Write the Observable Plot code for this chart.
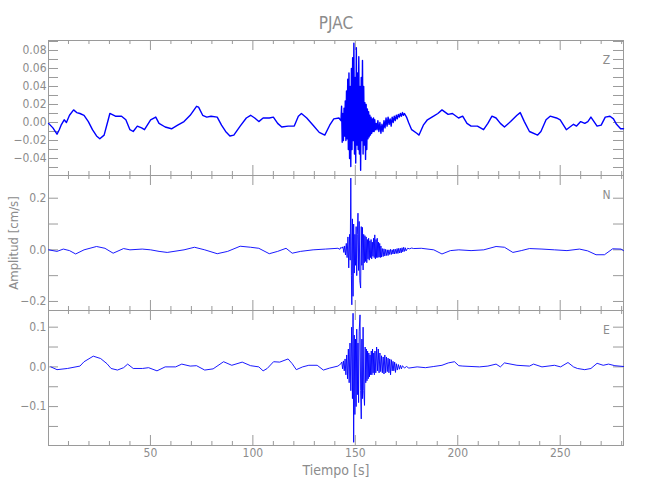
<!DOCTYPE html>
<html><head><meta charset="utf-8">
<script src="https://cdn.jsdelivr.net/npm/d3@7"></script>
<script src="https://cdn.jsdelivr.net/npm/@observablehq/plot@0.6"></script>
<style>
body{margin:0;background:#fff;}
#chart{width:650px;height:500px;overflow:hidden;}
#chart svg{display:block;overflow:visible;}
#chart svg, #chart svg text{font-family:"DejaVu Sans Condensed","DejaVu Sans",sans-serif;font-stretch:condensed;}
</style></head><body><div id="chart"></div>
<script>
// [time (s), amplitude (cm/s)]
const zSeries = [[0.3,-0.001],[2.4,-0.006],[4.4,-0.013],[5.5,-0.008],[6.4,-0.003],[7.9,0.003],[9.0,0.000],[10.5,0.008],[12.5,0.014],[14.0,0.011],[15.6,0.010],[17.6,0.008],[19.7,0.001],[21.7,-0.008],[23.7,-0.015],[25.3,-0.018],[27.4,-0.014],[29.4,0.003],[30.2,0.010],[32.9,0.007],[35.9,0.007],[38.0,0.003],[40.0,-0.008],[41.6,-0.010],[43.6,-0.004],[45.7,-0.006],[47.1,-0.008],[50.1,0.003],[52.6,0.006],[54.2,-0.001],[57.2,-0.005],[60.3,-0.007],[63.3,-0.003],[66.4,0.001],[69.4,0.008],[72.5,0.018],[73.5,0.017],[75.5,0.008],[77.5,0.006],[79.6,0.007],[82.6,0.006],[84.7,-0.003],[86.7,-0.010],[88.8,-0.015],[90.7,-0.014],[93.8,-0.004],[96.8,0.005],[98.9,0.008],[100.9,0.005],[102.9,0.001],[105.0,0.005],[108.0,0.005],[110.0,0.006],[112.1,-0.001],[114.1,-0.005],[117.2,-0.004],[120.2,-0.004],[122.2,0.007],[123.7,0.010],[126.3,0.005],[129.4,-0.003],[132.4,-0.011],[135.1,-0.014],[137.5,-0.003],[139.5,0.004],[142.0,0.005],
[143.0,0.002],[143.3,0.018],[143.6,-0.022],[143.9,0.010],[144.2,-0.020],[144.5,0.016],[144.8,-0.015],[145.1,0.024],[145.4,-0.020],[145.7,0.035],[146.0,-0.018],[146.3,0.048],[146.6,-0.030],[146.9,0.055],[147.2,-0.040],[147.5,0.040],[147.8,-0.049],[148.1,0.060],[148.4,-0.030],[148.7,0.072],[149.0,-0.020],[149.3,0.088],[149.6,-0.035],[149.9,0.050],[150.2,-0.045],[150.5,0.083],[150.8,-0.025],[151.1,0.055],[151.4,-0.030],[151.7,0.073],[152.0,-0.035],[152.3,0.040],[152.6,-0.053],[152.9,0.050],[153.2,-0.020],[153.5,0.069],[153.8,-0.035],[154.1,0.040],[154.4,-0.025],[154.7,0.022],[155.0,-0.041],[155.3,0.020],[155.6,-0.030],[155.9,0.015],[156.2,-0.018],[156.5,0.012],[156.8,-0.016],[157.1,0.008],[157.4,-0.014],[157.7,0.006],[158.0,-0.012],[158.3,0.004],[158.6,-0.010],[158.9,0.005],[159.2,-0.010],[159.5,0.003],[159.8,-0.008],[160.2,-0.001],[160.6,-0.008],[161.0,0.002],[161.5,-0.010],[162.0,0.000],[162.5,-0.012],[163.0,-0.002],[163.5,-0.010],[164.0,0.002],[164.5,-0.006],[165.0,0.005],[165.5,-0.004],[166.0,0.006],[166.5,-0.002],[167.0,0.004],[167.5,-0.004],[168.0,0.006],[168.5,0.000],[169.0,0.007],[169.5,0.002],[170.0,0.008],[170.5,0.004],[171.0,0.009],[171.5,0.006],[172.0,0.010],[172.5,0.007],[173.0,0.011],[173.5,0.008],[174.0,0.010],[175.0,0.006],[176.0,0.000],[177.5,-0.008],[180.0,-0.012],[181.1,-0.014],[183.2,-0.003],[185.2,0.003],[188.2,0.007],[190.3,0.010],[192.3,0.014],[195.3,0.009],[197.4,0.010],[200.4,0.005],[202.4,0.007],[204.5,-0.001],[206.5,-0.004],[209.6,-0.004],[212.6,-0.008],[214.7,-0.001],[216.7,0.007],[218.7,0.005],[220.8,-0.001],[222.8,-0.005],[225.8,0.001],[228.9,0.008],[230.5,0.011],[232.5,0.001],[235.0,-0.010],[239.0,-0.014],[240.6,-0.010],[243.1,0.003],[245.1,0.007],[248.2,0.005],[250.0,0.003],[253.0,-0.008],[256.5,-0.002],[258.0,-0.004],[260.0,0.001],[262.0,-0.001],[263.5,0.001],[265.0,0.006],[268.0,-0.004],[270.0,-0.003],[272.0,0.006],[274.3,0.007],[276.0,0.004],[277.5,-0.002],[279.5,-0.007],[280.9,-0.007]];

const nSeries = [[0.3,0.000],[4.4,-0.006],[7.5,0.003],[10.5,-0.003],[13.5,-0.016],[17.6,0.000],[23.7,0.013],[27.8,0.006],[31.8,-0.013],[36.9,0.005],[40.0,0.000],[46.0,0.003],[50.1,0.000],[54.2,-0.006],[58.2,-0.010],[66.4,0.000],[71.5,0.010],[76.5,0.000],[82.6,-0.015],[87.7,-0.006],[93.8,0.014],[98.9,0.010],[102.9,0.006],[108.0,-0.015],[112.1,-0.006],[116.2,0.006],[119.2,-0.013],[123.3,-0.006],[129.4,0.000],[135.5,0.003],[141.5,0.006],
[142.5,0.002],[143.0,0.010],[143.5,0.006],[144.0,0.012],[144.4,-0.010],[144.8,0.015],[145.2,-0.020],[145.6,0.025],[146.0,-0.030],[146.4,0.050],[146.8,-0.070],[147.2,0.060],[147.5,-0.040],[147.8,0.278],[148.1,-0.100],[148.3,-0.213],[148.6,0.120],[148.9,-0.180],[149.2,0.100],[149.5,-0.090],[149.8,0.060],[150.1,-0.060],[150.4,0.090],[150.7,-0.100],[151.0,0.060],[151.3,0.142],[151.6,-0.080],[151.9,0.110],[152.2,-0.120],[152.6,-0.148],[152.9,0.090],[153.2,-0.060],[153.5,0.087],[153.8,-0.078],[154.1,0.060],[154.4,-0.050],[154.7,0.055],[155.0,-0.045],[155.3,0.050],[155.6,-0.050],[155.9,0.040],[156.2,-0.035],[156.5,0.045],[156.8,-0.040],[157.1,0.035],[157.4,-0.030],[157.7,0.040],[158.0,-0.035],[158.3,0.030],[158.6,-0.025],[158.9,0.045],[159.2,-0.030],[159.5,0.058],[159.8,-0.035],[160.1,0.040],[160.4,-0.030],[160.7,0.045],[161.0,-0.030],[161.3,0.030],[161.6,-0.028],[161.9,0.025],[162.2,-0.030],[162.5,0.015],[162.8,-0.028],[163.2,0.005],[163.6,-0.026],[164.0,0.004],[164.4,-0.024],[164.8,0.002],[165.2,-0.022],[165.6,0.000],[166.0,-0.022],[166.4,0.000],[166.8,-0.018],[167.2,0.002],[167.6,-0.018],[168.0,0.000],[168.4,-0.016],[168.8,0.003],[169.2,-0.016],[169.6,0.002],[170.0,-0.014],[170.4,0.005],[170.8,-0.014],[171.2,0.006],[171.6,-0.012],[172.0,0.006],[172.4,-0.012],[172.8,0.008],[173.2,-0.008],[173.6,0.010],[174.0,-0.006],[174.4,0.008],[174.8,-0.004],[175.5,0.006],[176.5,0.004],[177.5,0.007],[178.5,0.005],[182.2,0.006],[188.3,0.000],[192.3,-0.016],[196.4,-0.003],[200.5,0.000],[206.5,-0.003],[212.7,0.000],[218.7,0.013],[222.8,0.010],[226.9,-0.010],[231.0,-0.003],[235.0,0.005],[241.1,0.003],[247.2,0.000],[253.3,-0.003],[259.4,0.003],[263.4,-0.004],[267.5,-0.019],[271.6,-0.019],[275.6,0.004],[279.7,0.003],[280.9,-0.003]];

const eSeries = [[1.4,0.000],[4.4,-0.007],[9.5,-0.004],[15.6,0.002],[17.6,0.013],[22.1,0.027],[25.7,0.021],[28.8,0.008],[30.8,-0.004],[33.9,-0.008],[36.9,-0.002],[38.9,0.007],[41.6,-0.004],[46.1,-0.004],[49.1,-0.002],[53.2,-0.010],[57.2,0.000],[62.3,0.000],[65.3,0.007],[69.4,0.002],[72.5,0.003],[76.5,-0.008],[80.6,-0.005],[85.7,0.013],[89.7,0.004],[94.8,0.012],[98.9,0.003],[102.9,0.000],[105.0,-0.010],[107.0,-0.004],[110.1,0.013],[113.1,0.012],[117.2,0.020],[119.2,0.008],[121.2,-0.007],[124.3,0.000],[127.3,0.004],[131.4,0.004],[134.4,-0.008],[137.5,-0.003],[141.5,0.002],
[143.0,0.008],[143.4,0.012],[143.8,-0.005],[144.2,0.015],[144.6,-0.010],[145.0,0.020],[145.4,-0.020],[145.8,0.030],[146.2,-0.030],[146.6,0.045],[147.0,-0.040],[147.4,0.060],[147.8,-0.060],[148.2,0.100],[148.6,-0.080],[148.9,0.135],[149.2,-0.190],[149.5,0.080],[149.8,-0.120],[150.1,0.070],[150.4,-0.100],[150.7,0.095],[151.0,-0.070],[151.3,0.060],[151.6,-0.090],[151.9,0.090],[152.3,0.131],[152.6,-0.060],[152.9,-0.131],[153.2,0.070],[153.5,-0.080],[153.8,0.100],[154.1,-0.060],[154.5,-0.097],[154.8,0.050],[155.1,-0.040],[155.4,0.045],[155.7,-0.035],[156.0,0.040],[156.3,-0.030],[156.6,0.035],[156.9,-0.025],[157.2,0.030],[157.5,-0.020],[157.8,0.040],[158.1,-0.020],[158.4,0.045],[158.7,-0.015],[159.0,0.035],[159.3,-0.020],[159.6,0.040],[160.0,-0.015],[160.4,0.050],[160.8,-0.010],[161.2,0.045],[161.6,-0.015],[162.0,0.035],[162.4,-0.012],[162.8,0.028],[163.2,-0.015],[163.6,0.025],[164.0,-0.018],[164.4,0.030],[164.8,-0.015],[165.2,0.025],[165.6,-0.012],[166.0,0.022],[166.4,-0.015],[166.8,0.020],[167.2,-0.020],[167.6,0.018],[168.0,-0.010],[168.4,0.014],[168.8,-0.010],[169.2,0.012],[169.6,-0.014],[170.0,0.008],[170.5,-0.008],[171.0,0.006],[171.5,-0.006],[172.0,0.004],[172.5,-0.005],[173.0,0.003],[174.0,-0.003],[175.0,0.001],[176.1,-0.003],[180.2,0.000],[184.2,-0.002],[188.3,0.001],[192.3,0.004],[195.4,0.010],[198.4,0.013],[200.5,0.003],[202.5,0.002],[210.6,0.000],[214.7,0.002],[218.7,0.007],[220.8,0.000],[222.8,0.010],[228.9,0.004],[235.0,0.002],[237.0,0.007],[241.1,0.000],[247.2,0.004],[250.2,0.000],[253.8,0.011],[256.5,0.000],[258.4,-0.004],[262.0,-0.007],[265.0,-0.004],[268.0,0.009],[271.0,0.004],[273.6,0.007],[276.7,0.003],[280.9,0.001]];

const xTicks = d3.range(10, 281, 10);
const xMajor = [50, 100, 150, 200, 250];
const zTicks = d3.range(-5, 10).map(d => d / 100);
const zLabels = [-0.04, -0.02, 0, 0.02, 0.04, 0.06, 0.08];
const nTicks = [-0.2, -0.1, 0, 0.1, 0.2];
const nLabels = [-0.2, 0, 0.2];
const eTicks = [-0.15, -0.1, -0.05, 0, 0.05, 0.1];
const eLabels = [-0.1, 0, 0.1];

const title = "PJAC";
const yTitle = "Amplitud [cm/s]";
const xTitle = "Tiempo [s]";

const GRAY = "#9a9a9a", TXT = "#8c8c8c", BLUE = "#0000ff";
const FONT = "'DejaVu Sans Condensed', 'DejaVu Sans', sans-serif";
const W = 650, ML = 48, MR = 27, PH = 135, INNER = W - ML - MR;
const xDomain = [0.25, 280.9];

function panel(o) {
  const xMinor = xTicks.filter(d => d % 50);
  const marks = [
    Plot.frame({stroke: GRAY}),
    Plot.tickY(o.ticks, {y: d => d, stroke: GRAY, insetRight: INNER - 10}),
    Plot.tickY(o.ticks, {y: d => d, stroke: GRAY, insetLeft: INNER - 10}),
    Plot.tickX(xMinor, {x: d => d, stroke: GRAY, insetBottom: PH - 4}),
    Plot.tickX(xMinor, {x: d => d, stroke: GRAY, insetTop: PH - 4}),
    Plot.tickX(xMajor, {x: d => d, stroke: GRAY, insetBottom: PH - 10}),
    Plot.tickX(xMajor, {x: d => d, stroke: GRAY, insetTop: PH - 10}),
    Plot.axisY(o.labels, {tickSize: 0, tickPadding: 2, tickFormat: o.fmt, label: null, fill: TXT, fontSize: 12}),
    Plot.line(o.data, {x: d => d[0], y: d => d[1], stroke: BLUE, strokeWidth: o.sw}),
    Plot.text([o.channel], {text: d => d, frameAnchor: "top-right", dx: -17, dy: 20, lineAnchor: "middle", textAnchor: "middle", fill: TXT, fontSize: 12}),
    ...(o.extra || [])
  ];
  return Plot.plot({
    width: W, height: o.mt + PH + o.mb,
    marginLeft: ML, marginRight: MR, marginTop: o.mt, marginBottom: o.mb,
    x: {domain: xDomain, axis: null},
    y: {domain: o.domain, axis: null},
    style: {fontFamily: FONT, fontSize: "12px", color: TXT, background: "transparent", overflow: "visible"},
    marks
  });
}

const root = document.getElementById("chart");
root.append(panel({
  data: zSeries, domain: [-0.0589, 0.0911], ticks: zTicks, labels: zLabels,
  fmt: d3.format(".2f"), channel: "Z", sw: 1.4, mt: 40, mb: 0,
  extra: [Plot.text([title], {text: d => d, frameAnchor: "top", dy: -17, lineAnchor: "middle", fill: TXT, fontSize: 17})]
}));
root.append(panel({
  data: nSeries, domain: [-0.235, 0.288], ticks: nTicks, labels: nLabels,
  fmt: d3.format(".1f"), channel: "N", sw: 0.9, mt: 0, mb: 0,
  extra: [Plot.text([yTitle], {text: d => d, frameAnchor: "left", dx: -35, rotate: -90, lineAnchor: "middle", textAnchor: "middle", fill: TXT, fontSize: 13})]
}));
root.append(panel({
  data: eSeries, domain: [-0.198, 0.142], ticks: eTicks, labels: eLabels,
  fmt: d3.format(".1f"), channel: "E", sw: 0.9, mt: 0, mb: 55,
  extra: [
    Plot.axisX(xMajor, {tickSize: 0, tickPadding: 3, label: null, fill: TXT, fontSize: 12}),
    Plot.text([xTitle], {text: d => d, frameAnchor: "bottom", dy: 25, lineAnchor: "middle", fill: TXT, fontSize: 14})
  ]
}));
</script></body></html>
